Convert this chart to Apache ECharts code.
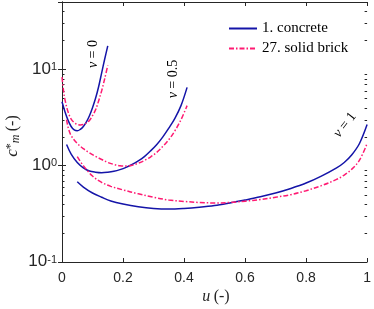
<!DOCTYPE html>
<html><head><meta charset="utf-8">
<script src="https://cdn.jsdelivr.net/npm/echarts@6/dist/echarts.min.js"></script>
<style>html,body{margin:0;padding:0;background:#fff}#c{width:374px;height:309px}</style>
</head><body><div id="c"></div>
<script>
// ---- data ----
const xTicks = [0, 0.2, 0.4, 0.6, 0.8, 1];
const yMajor = [0.1, 1, 10];
const yMinor = [0.2,0.3,0.4,0.5,0.6,0.7,0.8,0.9,2,3,4,5,6,7,8,9,20,30,40];
const legendNames = ['1. concrete', '27. solid brick'];

const concreteV0U = [0, 0.01, 0.02, 0.03, 0.04, 0.05, 0.06, 0.07, 0.08, 0.09, 0.10, 0.11, 0.12, 0.13, 0.14, 0.15];
const concreteV0  = [4.6, 3.6, 2.95, 2.55, 2.35, 2.3, 2.38, 2.55, 2.85, 3.3, 4.0, 5.0, 6.6, 9.2, 12.8, 17.5];
const brickV0U = [0, 0.005, 0.01, 0.02, 0.03, 0.04, 0.05, 0.06, 0.07, 0.08, 0.09, 0.10, 0.11, 0.12, 0.13, 0.14, 0.15];
const brickV0  = [8.3, 6.0, 4.8, 3.6, 3.05, 2.8, 2.68, 2.65, 2.68, 2.78, 2.95, 3.3, 3.8, 4.7, 6.0, 8.0, 11.0];

const concreteV05U = [0.015, 0.03, 0.05, 0.07, 0.09, 0.11, 0.13, 0.15, 0.17, 0.19, 0.21, 0.23, 0.25, 0.27, 0.29, 0.31, 0.33, 0.35, 0.37, 0.39, 0.41];
const concreteV05  = [1.66, 1.32, 1.08, 0.95, 0.88, 0.855, 0.845, 0.855, 0.875, 0.91, 0.96, 1.03, 1.12, 1.24, 1.42, 1.65, 1.98, 2.45, 3.1, 4.2, 6.5];
const brickV05U = [0.015, 0.02, 0.03, 0.05, 0.07, 0.09, 0.11, 0.13, 0.15, 0.17, 0.19, 0.21, 0.23, 0.25, 0.27, 0.29, 0.31, 0.33, 0.35, 0.37, 0.39, 0.41];
const brickV05  = [3.0, 2.5, 2.05, 1.7, 1.5, 1.36, 1.25, 1.16, 1.08, 1.03, 1.0, 0.99, 1.01, 1.06, 1.13, 1.23, 1.37, 1.58, 1.86, 2.3, 3.0, 4.2];

const concreteV1U = [0.05, 0.07, 0.1, 0.13, 0.16, 0.2, 0.25, 0.3, 0.35, 0.4, 0.45, 0.5, 0.55, 0.6, 0.65, 0.7, 0.75, 0.8, 0.85, 0.9, 0.925, 0.95, 0.975, 1.0];
const concreteV1  = [0.68, 0.6, 0.52, 0.47, 0.43, 0.4, 0.375, 0.36, 0.355, 0.36, 0.37, 0.385, 0.41, 0.44, 0.475, 0.52, 0.58, 0.66, 0.78, 0.95, 1.08, 1.3, 1.7, 2.67];
const brickV1U = [0.05, 0.07, 0.1, 0.13, 0.16, 0.2, 0.25, 0.3, 0.35, 0.4, 0.45, 0.5, 0.55, 0.6, 0.65, 0.7, 0.75, 0.8, 0.85, 0.9, 0.925, 0.95, 0.975, 1.0];
const brickV1  = [1.24, 1.0, 0.78, 0.67, 0.61, 0.56, 0.51, 0.47, 0.44, 0.425, 0.415, 0.41, 0.415, 0.428, 0.445, 0.47, 0.5, 0.55, 0.62, 0.72, 0.8, 0.92, 1.14, 1.7];

// ---- chart ----
const BLUE = '#1414A8', PINK = '#FF1A72', AX = '#262626';
const SERIF = "'Liberation Serif', 'DejaVu Serif', serif";
const SANS = "'Liberation Sans', Arial, sans-serif";
const pairs = (u, v) => u.map((x, i) => [x, v[i]]);
const chart = echarts.init(document.getElementById('c'), null, {renderer: 'canvas'});

function mkLine(name, u, v, color, dashed) {
  return {
    type: 'line', name, data: pairs(u, v), xAxisIndex: 0, yAxisIndex: 0,
    symbol: 'none', smooth: 0.35, silent: true, z: 3,
    lineStyle: {color, width: 1.5, type: dashed ? [5, 2, 1.5, 2] : 'solid'},
    itemStyle: {color}
  };
}

const yLabelFmt = v => {
  const e = Math.log10(v);
  const r = Math.round(e);
  if (Math.abs(e - r) > 1e-6) return '';
  return '{b|10}{s|' + r + '}';
};

const axisCommon = {
  axisLine: {show: true, lineStyle: {color: AX, width: 1}},
  splitLine: {show: false}
};

chart.setOption({
  animation: false,
  backgroundColor: '#fff',
  grid: {left: 62, right: 3.5, top: 2, bottom: 47, containLabel: false},
  legend: {
    data: legendNames, orient: 'vertical', left: 223, top: 16,
    itemWidth: 28, itemHeight: 14, itemGap: 5,
    itemStyle: {opacity: 0},
    textStyle: {fontFamily: SERIF, fontSize: 15, lineHeight: 14, color: '#000'},
    selectedMode: false
  },
  xAxis: [
    Object.assign({type: 'value', min: 0, max: 1, interval: 0.2, position: 'bottom',
      axisTick: {show: true, inside: true, length: 4, lineStyle: {color: AX}},
      axisLabel: {show: true, margin: 9, fontFamily: SANS, fontSize: 14, color: AX,
        formatter: v => (Math.abs(v - 1) < 1e-9 ? '1' : (Math.abs(v) < 1e-9 ? '0' : v.toFixed(1)))}
    }, axisCommon),
    Object.assign({type: 'value', min: 0, max: 1, interval: 0.2, position: 'top',
      axisTick: {show: true, inside: true, length: 4, lineStyle: {color: AX}},
      axisLabel: {show: false}}, axisCommon)
  ],
  yAxis: [
    Object.assign({type: 'log', logBase: 10, min: 0.1, max: 50, position: 'left',
      axisTick: {show: true, inside: true, length: 4, lineStyle: {color: AX}},
      axisLabel: {show: true, margin: 5, formatter: yLabelFmt, color: AX,
        rich: {
          b: {fontFamily: SANS, fontSize: 17, color: AX, verticalAlign: 'bottom', lineHeight: 16, padding: [6, 0, 0, 0]},
          s: {fontFamily: SANS, fontSize: 11, color: AX, verticalAlign: 'top', lineHeight: 11}
        }}
    }, axisCommon),
    Object.assign({type: 'log', logBase: 10, min: 0.1, max: 50, position: 'right',
      axisTick: {show: true, inside: true, length: 4, lineStyle: {color: AX}},
      axisLabel: {show: false}}, axisCommon)
  ],
  series: [
    mkLine(legendNames[0], concreteV0U, concreteV0, BLUE, false),
    mkLine(legendNames[1], brickV0U, brickV0, PINK, true),
    mkLine(legendNames[0], concreteV05U, concreteV05, BLUE, false),
    mkLine(legendNames[1], brickV05U, brickV05, PINK, true),
    mkLine(legendNames[0], concreteV1U, concreteV1, BLUE, false),
    mkLine(legendNames[1], brickV1U, brickV1, PINK, true),
    {
      type: 'custom', silent: true, xAxisIndex: 0, yAxisIndex: 0, z: 2,
      data: yMinor.map(v => [0, v]),
      renderItem: (params, api) => {
        const p = api.coord([0, api.value(1)]);
        const cs = params.coordSys;
        const st = {stroke: AX, lineWidth: 1};
        const y = Math.round(p[1]) + 0.5;
        return {type: 'group', children: [
          {type: 'line', shape: {x1: cs.x, y1: y, x2: cs.x + 2.5, y2: y}, style: st},
          {type: 'line', shape: {x1: cs.x + cs.width, y1: y, x2: cs.x + cs.width - 2.5, y2: y}, style: st}
        ]};
      }
    }
  ],
  graphic: [
    {type: 'text', x: 216, y: 297, style: {
      text: '{i|u} {n|(-)}', align: 'center', verticalAlign: 'middle',
      rich: {i: {fontFamily: SERIF, fontStyle: 'italic', fontSize: 16, fill: AX},
             n: {fontFamily: SERIF, fontSize: 16, fill: AX}}}},
    {type: 'text', x: 13, y: 136, rotation: Math.PI / 2, style: {
      text: '{c|c}{sup|*}{sub|m} {n|(-)}', align: 'center', verticalAlign: 'middle',
      rich: {c: {fontFamily: SERIF, fontStyle: 'italic', fontSize: 17, fill: AX, verticalAlign: 'middle', lineHeight: 17},
             sup: {fontFamily: SERIF, fontSize: 12, fill: AX, verticalAlign: 'top', lineHeight: 10},
             sub: {fontFamily: SERIF, fontStyle: 'italic', fontSize: 12, fill: AX, verticalAlign: 'bottom', lineHeight: 10},
             n: {fontFamily: SERIF, fontSize: 16, fill: AX, verticalAlign: 'middle', lineHeight: 17}}}},
    {type: 'text', x: 93, y: 54, rotation: Math.PI / 2, style: {
      text: '{i|v} {n|= 0}', align: 'center', verticalAlign: 'middle',
      rich: {i: {fontFamily: SERIF, fontStyle: 'italic', fontSize: 14, fill: '#000'},
             n: {fontFamily: SERIF, fontSize: 14, fill: '#000'}}}},
    {type: 'text', x: 173, y: 79, rotation: Math.PI / 2, style: {
      text: '{i|v} {n|= 0.5}', align: 'center', verticalAlign: 'middle',
      rich: {i: {fontFamily: SERIF, fontStyle: 'italic', fontSize: 14, fill: '#000'},
             n: {fontFamily: SERIF, fontSize: 14, fill: '#000'}}}},
    {type: 'text', x: 345, y: 125, rotation: 52 * Math.PI / 180, style: {
      text: '{i|v} {n|= 1}', align: 'center', verticalAlign: 'middle',
      rich: {i: {fontFamily: SERIF, fontStyle: 'italic', fontSize: 14, fill: '#000'},
             n: {fontFamily: SERIF, fontSize: 14, fill: '#000'}}}}
  ]
});
</script>
</body></html>
